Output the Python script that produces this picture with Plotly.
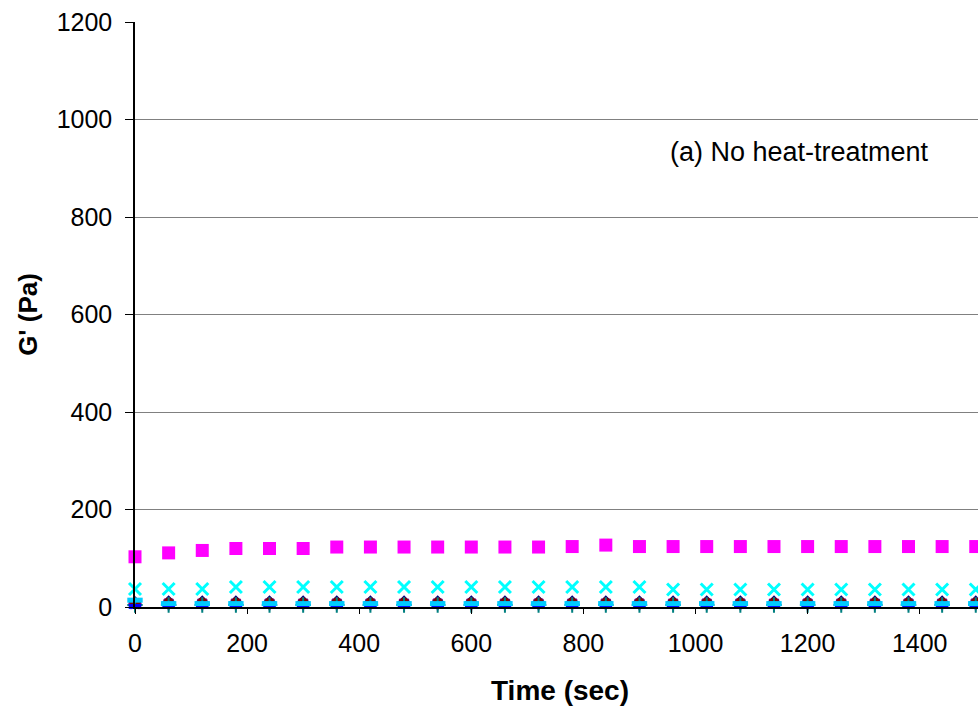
import plotly.graph_objects as go

time_s = [0, 60, 120, 180, 240, 300, 360, 420, 480, 540, 600, 660, 720, 780,
          840, 900, 960, 1020, 1080, 1140, 1200, 1260, 1320, 1380, 1440, 1500]

g_magenta = [103, 111, 116, 120, 120, 120, 123, 123, 123, 123, 123, 123, 123, 124,
             127, 124, 124, 124, 124, 124, 124, 124, 124, 124, 124, 124]
g_cyan = [37, 37, 37, 41, 41, 41, 41, 41, 41, 41, 41, 41, 41, 41,
          41, 41, 36, 36, 36, 36, 36, 36, 36, 36, 36, 36]
g_navy = [9, 11, 11, 11, 11, 11, 11, 11, 11, 11, 11, 11, 11, 11,
          11, 11, 11, 11, 11, 11, 11, 11, 11, 11, 11, 11]
g_yellow = [-5, -5, -5, -5, -5, -5, -5, -5, -5, -5, -5, -5, -5, -5,
            -5, -5, -5, -5, -5, -5, -5, -5, -5, -5, -5, -5]
g_purple = [6, 7, 7, 7, 7, 7, 7, 7, 7, 7, 7, 7, 7, 7,
            7, 7, 7, 7, 7, 7, 7, 7, 7, 7, 7, 7]
g_maroon = [6, 9, 9, 9, 9, 9, 9, 9, 9, 9, 9, 9, 9, 9,
            9, 9, 9, 9, 9, 9, 9, 9, 9, 9, 9, 9]
g_teal = [4, 4, 4, 4, 4, 4, 4, 4, 4, 4, 4, 4, 4, 4,
          4, 4, 4, 4, 4, 4, 4, 4, 4, 4, 4, 4]
g_blue = [1, 4, 4, 4, 4, 4, 4, 4, 4, 4, 4, 4, 4, 4,
          4, 4, 4, 4, 4, 4, 4, 4, 4, 4, 4, 4]
g_skyblue = [14, 7, 7, 7, 7, 7, 7, 7, 7, 7, 7, 7, 7, 7,
             7, 7, 7, 7, 7, 7, 7, 7, 7, 7, 7, 7]

x_ticks = [0, 200, 400, 600, 800, 1000, 1200, 1400]
y_ticks = [0, 200, 400, 600, 800, 1000, 1200]

FONT = "Liberation Sans, Arial, sans-serif"

fig = go.Figure()

def add(y, symbol, color, size, lw=0):
    marker = dict(symbol=symbol, color=color, size=size,
                  line=dict(color=color, width=lw))
    fig.add_trace(go.Scatter(x=time_s, y=y, mode="markers", marker=marker,
                             cliponaxis=False, showlegend=False, hoverinfo="skip"))

add(g_navy, "diamond", "#000080", 10)
add(g_magenta, "square", "#FF00FF", 13)
add(g_yellow, "triangle-up", "#FFFF00", 10)
add(g_cyan, "x-thin-open", "#00FFFF", 12, lw=3)
add(g_purple, "asterisk-open", "#800080", 11, lw=2)
add(g_maroon, "circle", "#800000", 10)
add(g_teal, "cross-thin-open", "#008080", 11, lw=2)
add(g_blue, "line-ew-open", "#0000FF", 9, lw=5)
add(g_skyblue, "line-ew-open", "#00CCFF", 11, lw=5)

fig.add_annotation(text="(a) No heat-treatment", xref="paper", yref="paper",
                   x=0.632, y=0.778, xanchor="left", yanchor="middle",
                   showarrow=False, font=dict(family=FONT, size=27, color="black"))

# x-axis title placed as paper text
fig.add_annotation(text="<b>Time (sec)</b>", xref="paper", yref="paper",
                   x=0.504, y=-0.143, xanchor="center", yanchor="middle",
                   showarrow=False, font=dict(family=FONT, size=28, color="black"))

fig.update_layout(
    width=978, height=707,
    margin=dict(l=135, r=0, t=22, b=100, autoexpand=False),
    paper_bgcolor="white", plot_bgcolor="white",
    font=dict(family=FONT, color="black"),
    xaxis=dict(range=[0, 1504], tickvals=x_ticks, ticks="outside", ticklen=5,
               tickcolor="black", showgrid=False, zeroline=False, automargin=False,
               showline=True, linecolor="black", linewidth=1.5,
               tickfont=dict(size=25), ticklabelstandoff=8),
    yaxis=dict(range=[0, 1200], tickvals=y_ticks, ticks="outside", ticklen=8,
               tickcolor="black", showgrid=True, gridcolor="#808080", gridwidth=1,
               zeroline=False, showline=True, linecolor="black", linewidth=1.5,
               automargin=False,
               tickfont=dict(size=25), ticklabelstandoff=8,
               title=dict(text="<b>G' (Pa)</b>", font=dict(size=26), standoff=12)),
)

fig.write_html(
    "out.html",
    config={"displayModeBar": False},
    post_script="document.body.style.margin='0';document.body.style.overflow='hidden';",
)
